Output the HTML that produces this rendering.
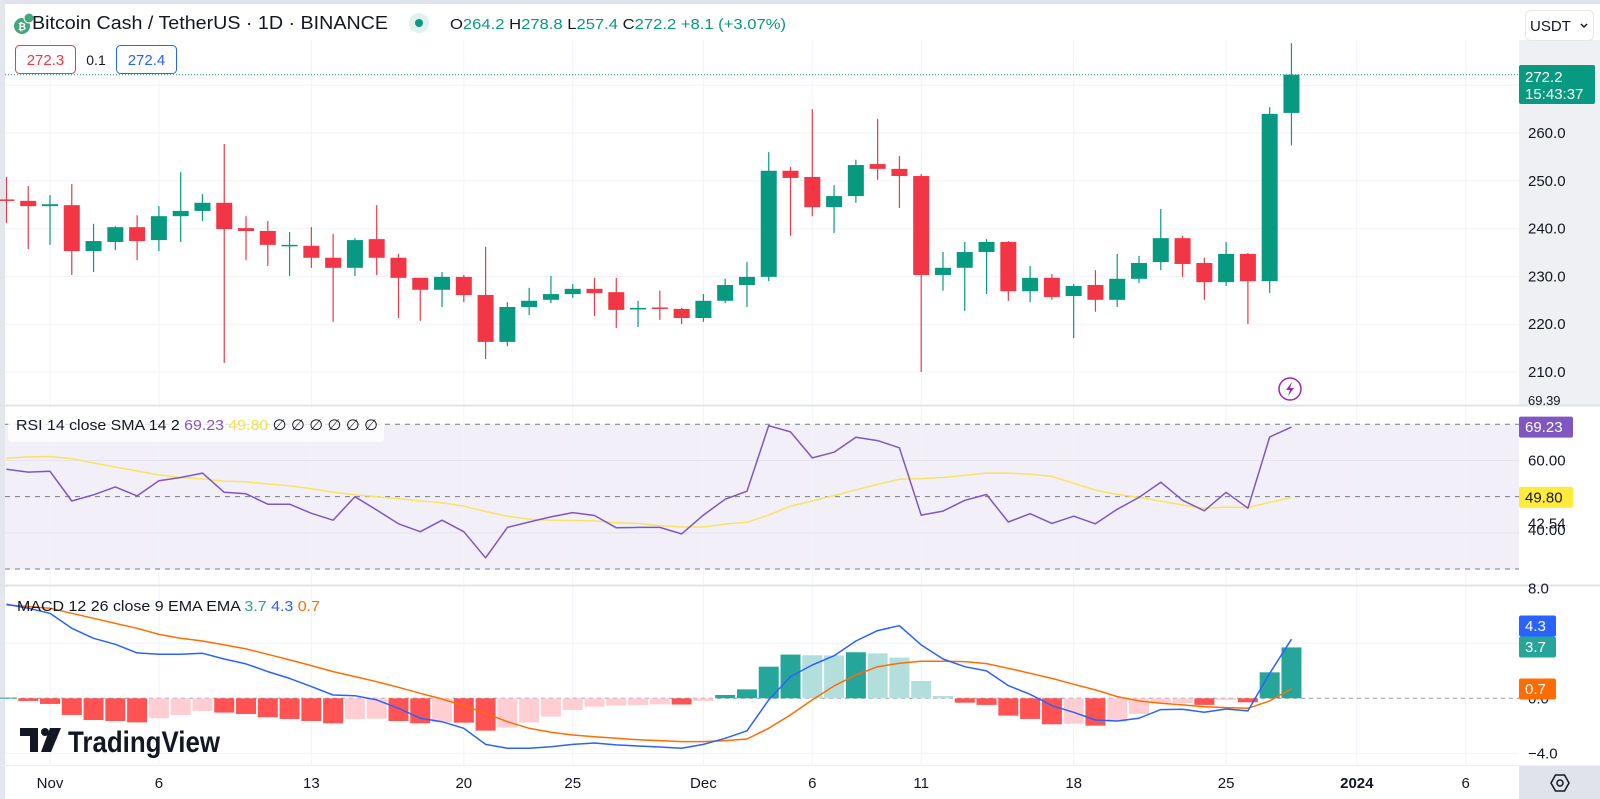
<!DOCTYPE html>
<html><head><meta charset="utf-8"><style>
html,body{margin:0;padding:0;background:#fff;width:1600px;height:799px;overflow:hidden}
svg{display:block;font-family:"Liberation Sans",sans-serif}
</style></head><body>
<svg id="chart" width="1600" height="799" viewBox="0 0 1600 799" xmlns="http://www.w3.org/2000/svg">
<rect x="0" y="0" width="1600" height="799" fill="#fff"/>
<rect x="0" y="0" width="1600" height="4" fill="#e0e3eb"/>
<rect x="0" y="0" width="5" height="799" fill="#e3e6ec"/>
<rect x="1519" y="40" width="81" height="365" fill="#eff0f4"/>
<rect x="5" y="424.3" width="1514" height="144.7" fill="#f2eff9"/>
<g id="grid"></g>
<line x1="0" y1="405.5" x2="1600" y2="405.5" stroke="#e0e3eb" stroke-width="2"/>
<line x1="0" y1="585.5" x2="1600" y2="585.5" stroke="#e0e3eb" stroke-width="2"/>
<line x1="0" y1="765.5" x2="1600" y2="765.5" stroke="#eef0f4" stroke-width="1"/>
<g id="rsi-levels"></g>
<g id="hist"></g>
<g id="lines"></g>
<g id="candles"></g>
<line x1="5" y1="74.7" x2="1519" y2="74.7" stroke="#089981" stroke-width="1" stroke-dasharray="1 2"/>
<g id="axes"></g>

<g>
<circle cx="22" cy="26" r="8" fill="#3fa97c"/>
<circle cx="29" cy="18" r="5" fill="#3fa97c" stroke="#fff" stroke-width="1"/>
<text x="22" y="30" font-size="10" fill="#fff" text-anchor="middle" font-weight="bold">₿</text>
</g>
<text x="32" y="29" font-size="18" fill="#131722" textLength="356" lengthAdjust="spacingAndGlyphs">Bitcoin Cash / TetherUS · 1D · BINANCE</text>
<circle cx="419" cy="23" r="10" fill="#e0f2ee"/>
<circle cx="419" cy="23" r="4" fill="#089981"/>
<text x="450" y="29" font-size="15" fill="#089981" textLength="336" lengthAdjust="spacingAndGlyphs"><tspan fill="#131722">O</tspan>264.2 <tspan fill="#131722">H</tspan>278.8 <tspan fill="#131722">L</tspan>257.4 <tspan fill="#131722">C</tspan>272.2 +8.1 (+3.07%)</text>
<rect x="15.5" y="45.5" width="60" height="28" rx="4" fill="#fff" stroke="#f23645"/>
<text x="45.5" y="65" font-size="15" fill="#f23645" text-anchor="middle">272.3</text>
<text x="96" y="65" font-size="14" fill="#131722" text-anchor="middle">0.1</text>
<rect x="116.5" y="45.5" width="60" height="28" rx="4" fill="#fff" stroke="#2962ff"/>
<text x="146.5" y="65" font-size="15" fill="#2962ff" text-anchor="middle">272.4</text>

<rect x="1525.5" y="10.5" width="68" height="30" rx="5" fill="#fff" stroke="#e6e8ee"/>
<text x="1530" y="31" font-size="15" fill="#131722">USDT</text>
<path d="M1581 24 l3 3 l3 -3" stroke="#131722" stroke-width="1.5" fill="none"/>

<rect x="1519" y="65" width="76" height="39" rx="2" fill="#089981"/>
<text x="1525" y="82" font-size="15" fill="#fff">272.2</text>
<text x="1525" y="99" font-size="15" fill="#fff">15:43:37</text>

<g>
<circle cx="1290" cy="389" r="11" fill="#fff" stroke="#9c27b0" stroke-width="1.5"/>
<path d="M1292 382 l-6 8 h4 l-2 6 l6 -8 h-4 z" fill="#9c27b0"/>
</g>

<rect x="8" y="408" width="376" height="34" rx="3" fill="#fff" fill-opacity="0.75"/>
<text x="16" y="430" font-size="15" fill="#131722" textLength="362" lengthAdjust="spacingAndGlyphs">RSI 14 close SMA 14 2 <tspan fill="#7e57c2">69.23</tspan> <tspan fill="#f7e04b">49.80</tspan> ∅ ∅ ∅ ∅ ∅ ∅</text>
<text x="17" y="611" font-size="15" fill="#131722" textLength="303" lengthAdjust="spacingAndGlyphs">MACD 12 26 close 9 EMA EMA <tspan fill="#26a69a">3.7</tspan> <tspan fill="#2962ff">4.3</tspan> <tspan fill="#ff6d00">0.7</tspan></text>

<g>
<rect x="20" y="728" width="18" height="8" fill="#131722"/>
<rect x="30" y="728" width="8" height="24" fill="#131722"/>
<circle cx="45" cy="732" r="4" fill="#131722"/>
<path d="M50 728 h11 l-10 24 h-10 z" fill="#131722"/>
<text x="68" y="752" font-size="30" font-weight="bold" fill="#131722" textLength="152" lengthAdjust="spacingAndGlyphs">TradingView</text>
</g>

<rect x="1519" y="766" width="81" height="33" fill="#e0e3eb"/>
<g transform="translate(1560,783)">
<path d="M-9 0 L-4.5 -8 L4.5 -8 L9 0 L4.5 8 L-4.5 8 Z" fill="none" stroke="#131722" stroke-width="1.5"/>
<circle r="3" fill="none" stroke="#131722" stroke-width="1.5"/>
</g>
</svg>
<script>
const opens=[246.1,245.8,244.7,244.9,235.3,237.2,240.3,237.6,242.6,243.7,245.4,240.1,239.5,236.4,236.4,233.9,231.8,237.8,233.9,229.7,227.2,229.9,226.1,216.3,223.6,225.1,226.3,227.4,226.7,223.3,223.5,223.2,221.3,224.9,228.2,229.9,252.1,250.8,244.5,246.8,253.5,252.5,251.0,230.3,231.8,235.1,237.2,226.9,229.7,225.9,228.2,225.1,229.5,233.0,238.0,232.8,228.8,234.7,229.0,264.2];
const highs=[250.8,248.9,247.0,249.3,241.0,240.5,242.8,244.7,251.8,247.2,257.7,242.6,241.6,239.3,240.3,238.9,238.0,244.9,234.7,229.7,230.9,230.3,236.2,224.6,227.6,230.1,228.4,229.7,229.7,224.9,227.0,223.4,226.3,229.5,233.0,256.0,252.9,265.0,249.1,254.4,262.9,255.2,251.4,235.1,237.2,237.8,237.4,232.2,230.5,228.4,231.3,234.7,234.3,244.1,238.5,233.9,237.2,234.9,265.4,278.8];
const lows=[241.2,235.7,236.6,230.3,230.9,235.5,233.4,235.3,237.2,241.6,211.9,233.4,232.2,230.1,231.8,220.5,230.1,230.3,221.3,220.7,223.6,224.6,212.7,215.4,221.9,224.4,225.5,221.7,219.2,219.4,220.9,220.0,220.5,224.4,223.6,229.0,238.5,242.6,239.1,245.4,250.2,244.3,210.0,227.0,222.8,226.3,224.9,224.6,225.1,217.1,222.6,223.6,228.6,231.3,229.9,225.1,228.0,220.0,226.5,257.4];
const closes=[245.9,244.7,245.1,235.3,237.4,240.3,237.4,242.6,243.7,245.4,239.9,239.5,236.6,236.6,233.9,231.8,237.6,233.9,229.7,227.2,229.9,226.1,216.3,223.6,224.9,226.3,227.4,226.5,223.0,223.4,223.4,221.3,224.9,228.2,229.9,252.1,250.6,244.5,246.8,253.3,252.5,251.0,230.3,231.8,235.1,237.2,226.9,229.7,225.7,228.0,225.1,229.5,232.8,238.0,232.6,228.8,234.7,229.0,264.0,272.2];
const rsiValues=[57.6,56.8,57.0,48.8,50.5,52.7,50.2,54.4,55.3,56.5,51.2,50.8,47.9,47.9,45.4,43.5,50.0,46.3,42.5,40.3,43.5,40.3,33.1,41.5,43.0,44.4,45.6,44.8,41.4,41.5,41.5,39.7,44.9,49.3,51.5,69.6,67.9,60.7,62.3,66.4,65.5,63.5,44.9,46.0,49.0,50.6,43.0,45.3,42.6,44.6,42.5,46.5,49.8,54.0,49.0,46.1,51.2,46.8,66.5,69.23];
const rsiSma=[60.6,61.0,61.1,60.5,59.3,58.2,57.1,56.0,55.3,54.9,54.3,54.1,53.5,53.0,52.2,51.2,50.5,50.0,49.4,48.8,48.3,47.4,45.9,44.6,43.8,43.5,43.4,43.3,42.8,42.6,42.0,41.6,41.6,42.4,42.9,44.9,47.4,48.8,50.3,51.9,53.4,54.8,55.0,55.3,55.9,56.5,56.5,56.2,55.6,53.7,51.8,50.6,49.8,48.8,47.7,46.8,47.1,47.0,48.4,49.8];
const macdValues=[6.84,6.55,6.18,5.09,4.36,3.93,3.30,3.20,3.20,3.27,2.86,2.50,1.94,1.45,0.85,0.24,0.19,-0.12,-0.73,-1.45,-1.70,-2.18,-3.35,-3.64,-3.64,-3.52,-3.35,-3.25,-3.39,-3.47,-3.54,-3.64,-3.35,-2.91,-2.36,-0.12,1.58,2.42,3.10,4.17,4.92,5.28,3.88,2.86,2.30,1.99,0.92,0.29,-0.53,-1.02,-1.58,-1.65,-1.45,-0.82,-0.80,-1.02,-0.78,-0.92,1.82,4.3];
const signalValues=[6.79,6.67,6.55,6.18,5.82,5.45,5.09,4.65,4.36,4.17,3.88,3.59,3.20,2.79,2.38,1.94,1.58,1.21,0.80,0.36,-0.05,-0.53,-1.09,-1.70,-2.18,-2.47,-2.67,-2.79,-2.91,-3.01,-3.08,-3.15,-3.15,-3.08,-2.96,-2.18,-1.21,-0.12,0.90,1.70,2.30,2.55,2.69,2.69,2.67,2.52,2.18,1.82,1.45,1.02,0.61,0.12,-0.19,-0.36,-0.48,-0.61,-0.68,-0.73,-0.19,0.7];
const histValues=[0.05,-0.19,-0.41,-1.21,-1.58,-1.65,-1.75,-1.45,-1.21,-0.92,-1.04,-1.14,-1.38,-1.50,-1.65,-1.82,-1.50,-1.48,-1.65,-1.82,-1.75,-1.77,-2.35,-2.13,-1.75,-1.33,-0.85,-0.61,-0.53,-0.50,-0.44,-0.45,-0.19,0.24,0.65,2.30,3.18,3.13,3.12,3.35,3.27,2.96,1.26,0.17,-0.32,-0.48,-1.26,-1.50,-1.89,-1.85,-1.99,-1.70,-1.14,-0.36,-0.34,-0.48,-0.12,-0.29,1.89,3.7];
const xTickLabels=["Nov","6","13","20","25","Dec","6","11","18","25","2024","6"];
const xTickDays=[0,5,12,19,24,30,35,40,47,54,60,65];
const priceTicks=[270,260,250,240,230,220,210];
const rsiTicks=[60,40];
const rsiLevels=[70,50,30];

const NS="http://www.w3.org/2000/svg";
const firstDay=-2;
function xAt(i){return 50+(i+firstDay)*21.78;}
function xDay(d){return 50+d*21.78;}
function yP(p){return 133+(260-p)*4.78;}
function yR(v){return 424.3+(70-v)*3.6175;}
function yM(v){return 698.3-v*13.75;}
function mk(tag,parent,attrs){const e=document.createElementNS(NS,tag);for(const k in attrs)e.setAttribute(k,attrs[k]);parent.appendChild(e);return e;}

const grid=document.getElementById('grid');
xTickDays.forEach((d,i)=>{
  const l=mk('line',grid,{x1:xDay(d),x2:xDay(d),y1:40,y2:765,stroke:'#f0f3fa','stroke-width':1});
  
  
});
priceTicks.forEach(p=>{
  const l=mk('line',grid,{x1:5,x2:1519,y1:yP(p),y2:yP(p),stroke:'#f0f3fa','stroke-width':1});
  
  
});
rsiTicks.forEach(v=>{
  const l=mk('line',grid,{x1:5,x2:1519,y1:yR(v),y2:yR(v),stroke:'#e6e3ef','stroke-width':1});
  
  
});
[4,-4].forEach(v=>{
  const l=mk('line',grid,{x1:5,x2:1519,y1:yM(v),y2:yM(v),stroke:'#f0f3fa','stroke-width':1});
  
  
});
const lev=document.getElementById('rsi-levels');
rsiLevels.forEach(v=>{
  const l=mk('line',lev,{x1:5,x2:1519,y1:yR(v),y2:yR(v),stroke:'#787b86','stroke-width':1,'stroke-dasharray':'5 5'});
  
  
});
const zl=mk('line',lev,{x1:5,x2:1519,y1:yM(0),y2:yM(0),stroke:'#9598a1','stroke-width':1,'stroke-dasharray':'4 4'});



const hg=document.getElementById('hist');
histValues.forEach((v,i)=>{
  const prev=i>0?histValues[i-1]:0;
  let col;
  if(v>=0) col=(v>=prev)?'#26a69a':'#b2dfdb';
  else col=(v<prev)?'#ff5252':'#ffcdd2';
  const y0=yM(0),y1=yM(v);
  const r=mk('rect',hg,{x:xAt(i)-10,y:Math.min(y0,y1),width:20,height:Math.max(1,Math.abs(y1-y0)),fill:col});
  
  
});

const lg=document.getElementById('lines');
function poly(vals,fy,color,name,w){
  const pts=vals.map((v,i)=>xAt(i).toFixed(1)+','+fy(v).toFixed(1)).join(' ');
  const p=mk('polyline',lg,{points:pts,fill:'none',stroke:color,'stroke-width':w||1.5,'stroke-linejoin':'round'});
  
  
}
poly(rsiSma,yR,'#f7e463','rsi-sma-line',1.5);
poly(rsiValues,yR,'#7e57c2','rsi-line',1.5);
poly(signalValues,yM,'#ff6d00','macd-signal-line',1.5);
poly(macdValues,yM,'#2962ff','macd-line',1.5);

const cg=document.getElementById('candles');
opens.forEach((o,i)=>{
  const c=closes[i],up=c>=o,col=up?'#089981':'#f23645',x=xAt(i);
  const w=mk('line',cg,{x1:x,x2:x,y1:yP(highs[i]),y2:yP(lows[i]),stroke:col,'stroke-width':1.2});
  
  
  const top=yP(Math.max(o,c)),bot=yP(Math.min(o,c));
  const b=mk('rect',cg,{x:x-8,y:top,width:16,height:Math.max(1.5,bot-top),fill:col});
  
  
});

const ax=document.getElementById('axes');
function lbl(x,y,t,name,extra){
  const e=mk('text',ax,Object.assign({x:x,y:y,'font-size':15,fill:'#131722'},extra||{}));
  e.textContent=t;
  
  
  return e;
}
priceTicks.slice(1).forEach(p=>lbl(1528,yP(p)+5,p.toFixed(1),'price-tick-label'));
lbl(1528,405,'69.39','rsi-tick-label',{'font-size':13});
lbl(1528,yR(60)+5,'60.00','rsi-tick-label');
lbl(1528,yR(40)+2,'40.00','rsi-tick-label');
lbl(1528,yR(42.54)+5,'42.54','rsi-tick-label');
lbl(1528,yM(8)+5,'8.0','macd-tick-label');
lbl(1528,yM(0)+5,'0.0','macd-tick-label');
lbl(1528,yM(-4)+5,'\u22124.0','macd-tick-label');
xTickLabels.forEach((t,i)=>{
  lbl(xDay(xTickDays[i]),788,t,'x-tick-label',{'text-anchor':'middle','font-weight':t==='2024'?'bold':'normal'});
});
function badge(y,w,color,text,tc,name){
  const r=mk('rect',ax,{x:1519,y:y-10.5,width:w,height:21,rx:2,fill:color});
  
  
  const t=mk('text',ax,{x:1525,y:y+5,'font-size':15,fill:tc});
  t.textContent=text;
  
  
}
badge(yR(rsiValues[rsiValues.length-1]),54,'#7e57c2','69.23','#fff','rsi-value-badge');
badge(yR(rsiSma[rsiSma.length-1]),54,'#ffeb3b','49.80','#131722','rsi-sma-badge');
badge(626,37,'#2962ff','4.3','#fff','macd-value-badge');
badge(647,37,'#26a69a','3.7','#fff','hist-value-badge');
badge(689,37,'#ff6d00','0.7','#fff','signal-value-badge');
</script>
</body></html>
